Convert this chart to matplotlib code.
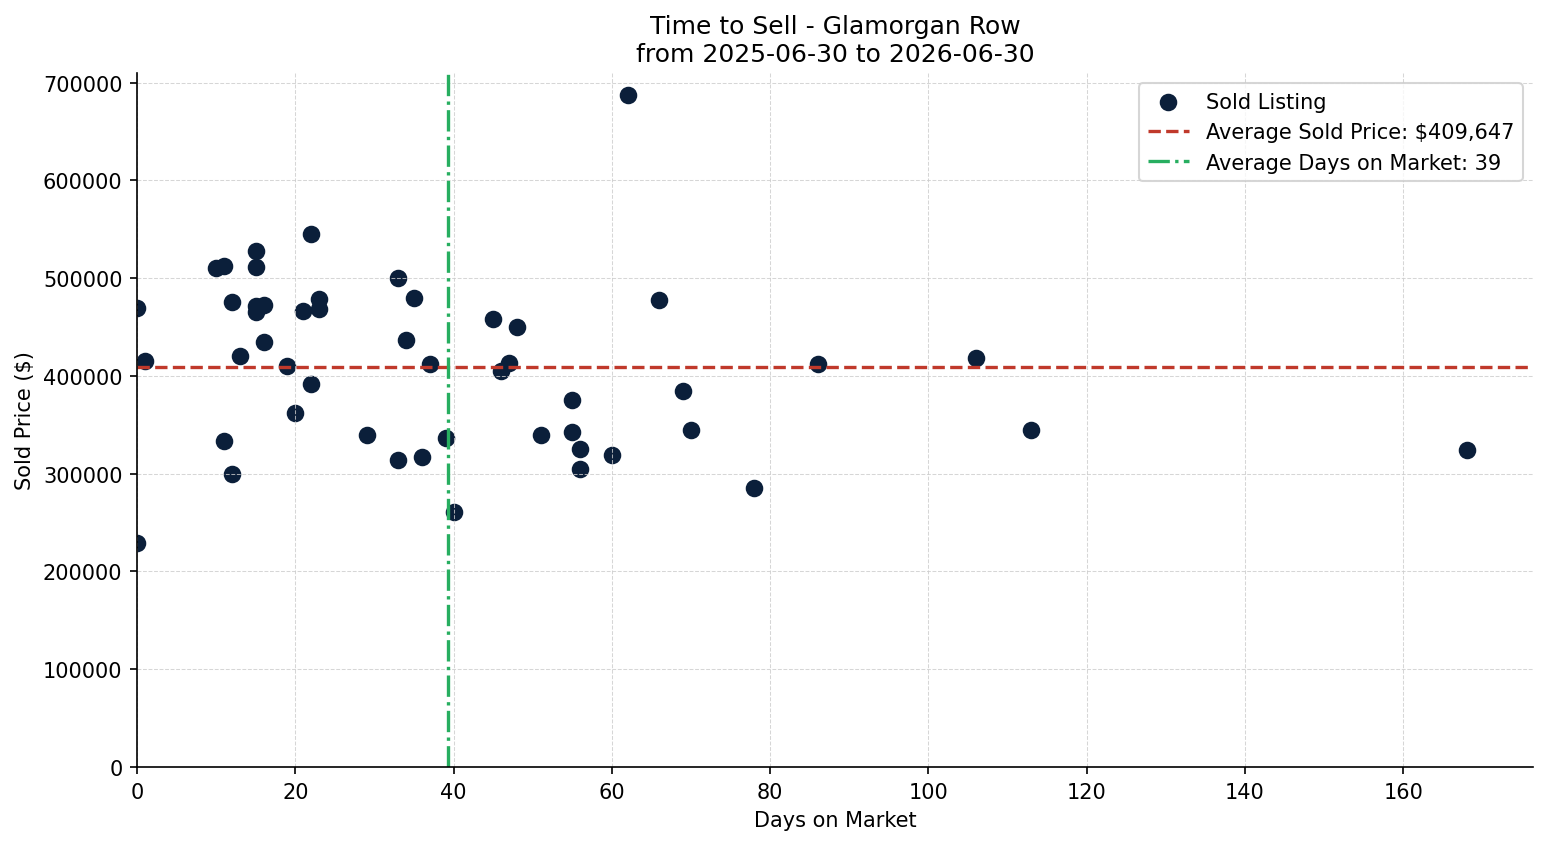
import numpy as np
import matplotlib
matplotlib.use("Agg")
import matplotlib.pyplot as plt

# days on market and sold price for each sold listing
days = [0, 0, 1, 10, 11, 11, 12, 12, 13, 15, 15, 15, 15, 16, 16, 19, 20, 21, 22, 22,
        23, 23, 29, 33, 33, 34, 35, 36, 37, 39, 40, 45, 46, 47, 48, 51, 55, 55, 56, 56,
        60, 62, 66, 69, 70, 78, 86, 106, 113, 168]
prices = [470000, 229350, 415000, 510000, 512000, 333000, 476000, 300000, 420000, 528000,
          511000, 472000, 465000, 473000, 435000, 410000, 362000, 466000, 545000, 392000,
          479000, 469000, 340000, 500000, 314000, 437000, 480000, 317000, 412000, 337000,
          261000, 458000, 405000, 413000, 450000, 340000, 375000, 343000, 325000, 305000,
          319000, 687000, 478000, 385000, 345000, 285000, 412000, 418000, 345000, 324000]

title = "Time to Sell - Glamorgan Row\nfrom 2025-06-30 to 2026-06-30"

avg_price = np.mean(prices)
avg_days = np.mean(days)

fig, ax = plt.subplots(figsize=(15.47 / 1.5, 8.45 / 1.5), dpi=150)
fig.subplots_adjust(left=0.0886, right=0.991, top=0.9124, bottom=0.0911)

ax.scatter(days, prices, s=55, color="#0b1f3a", label="Sold Listing")
ax.axhline(avg_price, color="#c0392b", linestyle="--", linewidth=1.6,
           label=f"Average Sold Price: ${avg_price:,.0f}")
ax.axvline(avg_days, color="#27ae60", linestyle="-.", linewidth=1.6,
           label=f"Average Days on Market: {avg_days:.0f}")

ax.set_xlim(left=0)
ax.set_ylim(bottom=0)
ax.set_title(title)
ax.set_xlabel("Days on Market")
ax.set_ylabel("Sold Price ($)")
ax.grid(True, linestyle="--", linewidth=0.5, color="#cccccc", alpha=0.8)
ax.spines["top"].set_visible(False)
ax.spines["right"].set_visible(False)
ax.legend(loc="upper right")

fig.savefig("out.png", dpi=150)
